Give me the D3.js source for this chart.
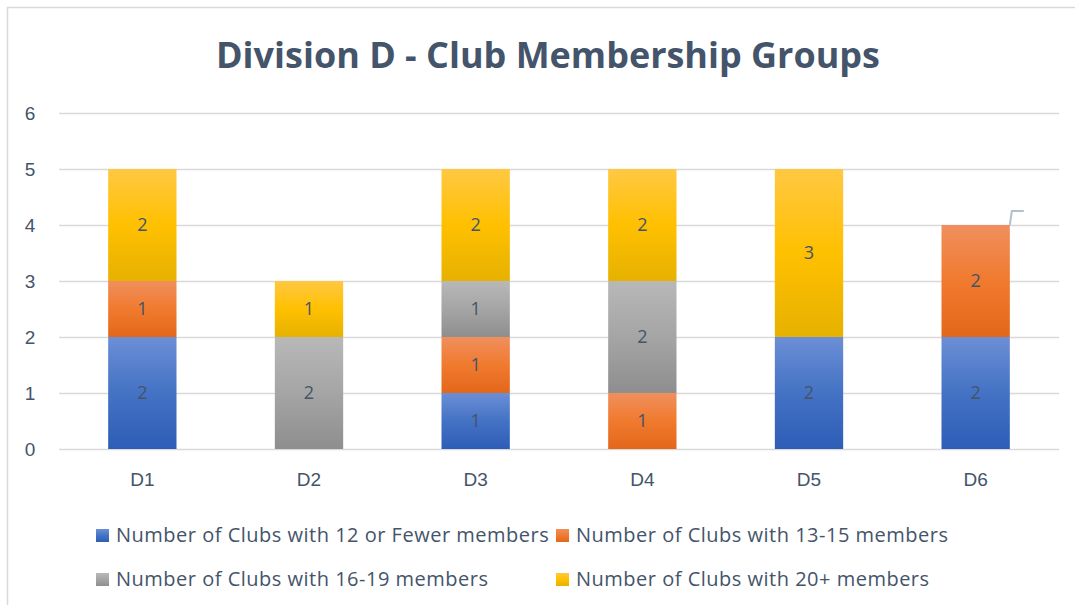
<!DOCTYPE html>
<html>
<head>
<meta charset="utf-8">
<script src="https://cdn.jsdelivr.net/npm/d3@7"></script>
<style>
  body { margin: 0; background: #fff; }
  svg { display: block; font-family: "Open Sans", Lato, sans-serif; }
</style>
</head>
<body>
<div id="chart"></div>
<script>
// chart values
const divisions = ["D1", "D2", "D3", "D4", "D5", "D6"];
const seriesNames = [
    "Number of Clubs with 12 or Fewer members",
    "Number of Clubs with 13-15 members",
    "Number of Clubs with 16-19 members",
    "Number of Clubs with 20+ members"
];
const fewer12 = [2, 0, 1, 0, 2, 2];
const members13to15 = [1, 0, 1, 1, 0, 2];
const members16to19 = [0, 2, 1, 2, 0, 0];
const members20plus = [2, 1, 2, 2, 3, 0];
const yTicks = [0, 1, 2, 3, 4, 5, 6];

// gradient stops per series: top, middle, bottom
const seriesColors = [
    ["#6b8fd6", "#4472c4", "#2e5db7"],
    ["#f08f5e", "#f07a2e", "#e3671b"],
    ["#b8b8b8", "#a5a5a5", "#8e8e8e"],
    ["#ffc843", "#ffc000", "#e6b100"]
];
const textColor = "#44546a";

const W = 1075, H = 605;
const margin = { top: 113, right: 16, bottom: 156, left: 59 };
const width = W - margin.left - margin.right;
const height = H - margin.top - margin.bottom;

const svg = d3.select("#chart").append("svg")
    .attr("width", W)
    .attr("height", H);

// gradients
const defs = svg.append("defs");
seriesColors.forEach((c, i) => {
    const g = defs.append("linearGradient")
        .attr("id", "grad" + i)
        .attr("x1", 0).attr("y1", 0).attr("x2", 0).attr("y2", 1);
    g.append("stop").attr("offset", "0%").attr("stop-color", c[0]);
    g.append("stop").attr("offset", "50%").attr("stop-color", c[1]);
    g.append("stop").attr("offset", "100%").attr("stop-color", c[2]);
});

// chart frame
svg.append("rect")
    .attr("x", 7.5).attr("y", 7.5)
    .attr("width", W + 20).attr("height", H + 20)
    .attr("fill", "none")
    .attr("stroke", "#d9d9d9")
    .attr("stroke-width", 1.5);

// title
svg.append("text")
    .attr("x", 548)
    .attr("y", 68)
    .attr("text-anchor", "middle")
    .attr("font-size", 35)
    .attr("font-weight", "bold")
    .attr("fill", textColor)
    .attr("textLength", 664)
    .attr("lengthAdjust", "spacingAndGlyphs")
    .text("Division D - Club Membership Groups");

const g = svg.append("g")
    .attr("transform", `translate(${margin.left},${margin.top})`);

const x = d3.scaleBand().domain(divisions).range([0, width]).paddingInner(0.59).paddingOuter(0.295);
const y = d3.scaleLinear().domain([0, 6]).range([height, 0]);

// gridlines
const yAxis = d3.axisLeft(y).tickValues(yTicks).tickSize(-width).tickFormat(d3.format("d"));
g.append("g")
    .attr("class", "y-axis")
    .call(yAxis)
    .call(sel => sel.select(".domain").remove())
    .call(sel => sel.selectAll("line").attr("stroke", "#d9d9d9").attr("stroke-width", 1.5))
    .call(sel => sel.selectAll("text")
        .attr("x", -29)
        .attr("text-anchor", "middle")
        .attr("font-size", 19)
        .attr("fill", textColor));

// stacked data
const rows = divisions.map((d, i) => ({
    division: d,
    s0: fewer12[i], s1: members13to15[i], s2: members16to19[i], s3: members20plus[i]
}));
const stack = d3.stack().keys(["s0", "s1", "s2", "s3"]);
const series = stack(rows);

const layers = g.selectAll("g.layer")
    .data(series)
    .enter().append("g")
    .attr("class", "layer")
    .attr("fill", (d, i) => `url(#grad${i})`);

layers.selectAll("rect")
    .data(d => d.filter(p => p[1] - p[0] > 0))
    .enter().append("rect")
    .attr("x", p => x(p.data.division))
    .attr("y", p => y(p[1]))
    .attr("width", x.bandwidth())
    .attr("height", p => y(p[0]) - y(p[1]));

// segment value labels
layers.selectAll("text")
    .data(d => d.filter(p => p[1] - p[0] > 0))
    .enter().append("text")
    .attr("x", p => x(p.data.division) + x.bandwidth() / 2)
    .attr("y", p => y((p[0] + p[1]) / 2))
    .attr("dy", "0.35em")
    .attr("text-anchor", "middle")
    .attr("font-size", 18)
    .attr("fill", textColor)
    .text(p => p[1] - p[0]);

// x axis labels
const xAxis = d3.axisBottom(x).tickSize(0).tickPadding(24);
g.append("g")
    .attr("class", "x-axis")
    .attr("transform", `translate(0,${height})`)
    .call(xAxis)
    .call(sel => sel.select(".domain").remove())
    .call(sel => sel.selectAll("text")
        .attr("font-size", 19)
        .attr("fill", textColor));

// small leader line near D6
const d6Right = x("D6") + x.bandwidth();
g.append("path")
    .attr("d", `M${d6Right},${y(4)} L${d6Right + 2},${y(4.25)} L${d6Right + 14},${y(4.25)}`)
    .attr("fill", "none")
    .attr("stroke", "#b4bfcc")
    .attr("stroke-width", 2);

// legend
const legendPos = [[96, 535], [556, 535], [96, 579], [556, 579]];
const legend = svg.selectAll("g.legend")
    .data(seriesNames)
    .enter().append("g")
    .attr("class", "legend")
    .attr("transform", (d, i) => `translate(${legendPos[i][0]},${legendPos[i][1]})`);
legend.append("rect")
    .attr("x", 0).attr("y", -6)
    .attr("width", 13).attr("height", 13)
    .attr("fill", (d, i) => `url(#grad${i})`);
legend.append("text")
    .attr("x", 20)
    .attr("y", 0)
    .attr("dy", "0.35em")
    .attr("font-size", 20)
    .attr("letter-spacing", 0.5)
    .attr("fill", textColor)
    .text(d => d);
</script>
</body>
</html>
